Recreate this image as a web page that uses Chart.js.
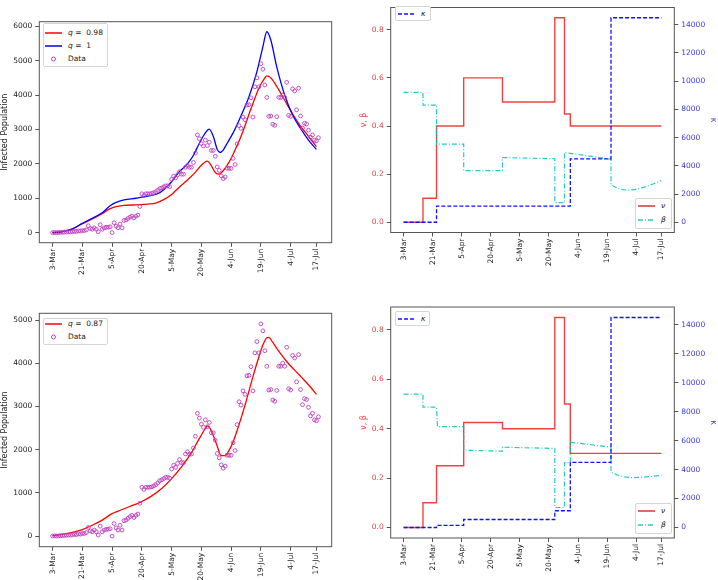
<!DOCTYPE html>
<html>
<head>
<meta charset="utf-8">
<script src="https://cdn.jsdelivr.net/npm/chart.js@4.4.0/dist/chart.umd.min.js"></script>
<style>
body{margin:0;background:#fff;width:718px;height:580px;position:relative;overflow:hidden;font-family:"DejaVu Sans",sans-serif;}
canvas{position:absolute;}
.lg{position:absolute;border:1px solid #d4d4d4;border-radius:2px;background:#fff;box-sizing:border-box;}
.lt{position:absolute;font-size:7.5px;line-height:10px;height:10px;color:#222;white-space:pre;}
svg{position:absolute;}
</style>
</head>
<body>
<canvas id="c1" width="356" height="290" style="left:0;top:0"></canvas>
<canvas id="c2" width="362" height="290" style="left:356px;top:0"></canvas>
<canvas id="c3" width="356" height="290" style="left:0;top:290px"></canvas>
<canvas id="c4" width="362" height="290" style="left:356px;top:290px"></canvas>
<div id="legends"></div>
<script>
// day index from 3-Mar
var dayTicks = [0,15,30,45,60,75,90,105,120,133];
var dayLabels = ["3-Mar","21-Mar","5-Apr","20-Apr","5-May","20-May","4-Jun","19-Jun","4-Jul","17-Jul"];

// observed infected, one value per day
var infected = [0,5,0,5,10,10,15,20,25,20,30,40,35,50,45,60,
  60,80,200,120,100,140,100,25,230,100,140,155,160,170,
  0,290,190,140,250,140,355,370,410,450,480,430,480,510,760,
  1130,1080,1130,1130,1130,1140,1160,1190,1230,1280,1300,1330,1360,1360,1340,
  1550,1640,1590,1680,1770,1700,1700,1900,1950,1900,1900,2040,2310,2840,2730,
  2590,2520,2690,2530,2630,2390,2390,2220,1910,1810,1650,1570,1620,1870,1870,
  1870,2160,1980,2580,3110,3030,3360,3280,3710,3720,3920,3360,4240,4500,4240,
  4910,4750,4290,3930,3380,3390,3150,3120,3370,3930,3930,4000,3930,4370,3410,
  3380,4180,4120,3570,4200,3390,3040,3180,3160,2980,2780,2840,2690,2670,2760];

var q1Days = [0,5,10,15,20,25,29,32,36,42,48,53,56,60,64,68,71,74,77,79,81,83,84.5,86,88,91,95,99,103,106,108,110,113,117,121,125,129,133];
var q1Vals = [0,30,110,270,420,580,780,880,950,1000,1060,1130,1250,1480,1780,2000,2250,2600,2900,3010,2800,2420,2330,2400,2600,2900,3400,3950,4680,5400,5840,5600,4820,4000,3420,3030,2690,2420];
var q098Days = [0,5,10,15,20,25,29,32,36,42,48,52,56,60,64,68,72,75,78,80,82,84,86,89,92,96,100,104,107,108,110,113,117,121,125,129,133];
var q098Vals = [0,30,110,260,400,550,700,760,790,810,830,860,960,1110,1330,1530,1760,1960,2080,1950,1750,1700,1800,2050,2400,2950,3600,4200,4500,4560,4500,4250,3850,3450,3100,2800,2500];
var q087Days = [0,5,10,15,20,25,30,33,37,41,45,50,55,60,65,70,74,77,78,79,81,83,85,87,89,91,94,97,101,104,106,108,109,111,114,118,122,126,130,133];
var q087Vals = [10,40,85,150,250,370,520,580,650,720,800,930,1100,1330,1600,1930,2260,2490,2550,2520,2330,2080,1860,1860,1990,2180,2580,3030,3690,4150,4420,4590,4600,4480,4280,4040,3840,3650,3450,3280];

var popTicksTop = [0,1000,2000,3000,4000,5000,6000];
var popTicksBottom = [0,1000,2000,3000,4000,5000];
var rateTicks = [0,0.2,0.4,0.6,0.8];
var kappaTicks = [0,2000,4000,6000,8000,10000,12000,14000];

// top right parameters (change points)
var nuTopDays = [0,10,17,31,51,78,83,86,133];
var nuTopVals = [0,0.1,0.4,0.6,0.5,0.85,0.45,0.4,0.4];
var kappaTopDays = [0,17,86,107,133];
var kappaTopVals = [0,1150,4500,14500,14500];
var betaTopDays = [0,10,10,17,17,31,31,51,51,78,78,83,83,107,107,110,113,116,120,125,129,133];
var betaTopVals = [0.54,0.54,0.487,0.487,0.325,0.325,0.215,0.215,0.269,0.264,0.082,0.082,0.29,0.262,0.155,0.143,0.136,0.133,0.137,0.148,0.16,0.173];

// bottom right parameters
var nuBotDays = [0,10,17,31,51,78,83,86,133];
var nuBotVals = [0,0.1,0.25,0.425,0.4,0.85,0.5,0.3,0.3];
var kappaBotDays = [0,17,31,78,86,107,133];
var kappaBotVals = [0,140,554,1155,4500,14500,14500];
var betaBotDays = [0,10,10,17,17.5,31,31,51,51,78,78,83,83,86,86,107,107,110,114,118,122,127,133];
var betaBotVals = [0.54,0.54,0.487,0.487,0.408,0.408,0.313,0.309,0.325,0.32,0.081,0.081,0.263,0.263,0.345,0.325,0.224,0.213,0.205,0.202,0.203,0.206,0.211];

function pts(xs, ys){ return xs.map(function(x,i){ return {x:x, y:ys[i]}; }); }

var fnt = {family:'DejaVu Sans', size:7.5};

var frame = { id:'frame', afterDatasetsDraw: function(chart){
  var a = chart.chartArea, c = chart.ctx;
  c.save(); c.strokeStyle = '#555'; c.lineWidth = 1;
  c.strokeRect(a.left, a.top, a.right - a.left, a.bottom - a.top);
  c.restore();
}};

function xAxis(min, max, h){
  return {
    type:'linear', min:min, max:max,
    afterBuildTicks: function(s){ s.ticks = dayTicks.map(function(v){ return {value:v}; }); },
    afterFit: function(s){ s.height = h; },
    ticks:{autoSkip:false, minRotation:90, maxRotation:90, padding:2, color:'#222', font:fnt,
      callback:function(v,i){ return dayLabels[i]; }},
    grid:{drawOnChartArea:false, drawTicks:true, tickLength:4, tickColor:'#555'},
    border:{display:false}
  };
}

function yAxis(pos, min, max, vals, w, color, title, tpad, fmt){
  return {
    type:'linear', position:pos, min:min, max:max,
    afterBuildTicks: function(s){ s.ticks = vals.map(function(v){ return {value:v}; }); },
    afterFit: function(s){ s.width = w; },
    ticks:{padding:3, color:color, font:fnt, callback:fmt},
    grid:{drawOnChartArea:false, drawTicks:true, tickLength:4, tickColor:'#555'},
    border:{display:false},
    title:{display:true, text:title, color:color, font:{family:'DejaVu Sans', size:8}, padding:{top:tpad, bottom:0}}
  };
}

function popPanel(id, lines, yMin, yMax, yTicks, padTop, xH){
  var sets = [{
    data: pts(infected.map(function(v,i){ return i; }), infected),
    showLine:false, pointStyle:'circle', pointRadius:1.9, pointBorderWidth:0.9,
    pointBorderColor:'#c040c0', pointBackgroundColor:'rgba(0,0,0,0)'
  }];
  lines.forEach(function(l){
    sets.push({data:pts(l.d, l.v), borderColor:l.c, borderWidth:1.3, pointRadius:0,
      fill:false, cubicInterpolationMode:'monotone'});
  });
  new Chart(document.getElementById(id), {
    type:'line',
    data:{datasets:sets},
    options:{
      responsive:false, animation:false, devicePixelRatio:1,
      layout:{padding:{top:padTop, right:24.3, left:0, bottom:0}},
      plugins:{legend:{display:false}, tooltip:{enabled:false}},
      scales:{
        x:xAxis(-6.7, 140.7, xH),
        y:yAxis('left', yMin, yMax, yTicks, 39.3, '#222', 'Infected Population', 0, function(v){ return String(v); })
      }
    },
    plugins:[frame]
  });
}

function ratePanel(id, nuD, nuV, beD, beV, kaD, kaV, padTop, xH){
  new Chart(document.getElementById(id), {
    type:'line',
    data:{datasets:[
      {data:pts(kaD, kaV), yAxisID:'y2', stepped:'before', borderColor:'#1010ff', borderWidth:1.3,
        borderDash:[4,2], pointRadius:0},
      {data:pts(beD, beV), yAxisID:'y', borderColor:'rgba(0,191,191,0.85)', borderWidth:1.2,
        borderDash:[5,2,1,2], pointRadius:0, tension:0},
      {data:pts(nuD, nuV), yAxisID:'y', stepped:'before', borderColor:'rgba(245,30,30,0.85)', borderWidth:1.4,
        pointRadius:0}
    ]},
    options:{
      responsive:false, animation:false, devicePixelRatio:1,
      layout:{padding:{top:padTop, right:0, left:0, bottom:0}},
      plugins:{legend:{display:false}, tooltip:{enabled:false}},
      scales:{
        x:xAxis(-6.65, 139.65, xH),
        y:yAxis('left', -0.0425, 0.8925, rateTicks, 34.7, '#e04848', 'ν, β', 3.2, function(v){ return v.toFixed(1); }),
        y2:yAxis('right', -725, 15225, kappaTicks, 43.7, '#3a3ad2', 'κ', 0, function(v){ return String(v); })
      }
    },
    plugins:[frame]
  });
}

popPanel('c1', [{d:q1Days, v:q1Vals, c:'#0000ff'}, {d:q098Days, v:q098Vals, c:'#ff0000'}],
  -292, 6132, popTicksTop, 21.7, 47.3);
popPanel('c3', [{d:q087Days, v:q087Vals, c:'#ff0000'}],
  -245.5, 5155.5, popTicksBottom, 23.3, 33.3);
ratePanel('c2', nuTopDays, nuTopVals, betaTopDays, betaTopVals, kappaTopDays, kappaTopVals, 2, 57.5);
ratePanel('c4', nuBotDays, nuBotVals, betaBotDays, betaBotVals, kappaBotDays, kappaBotVals, 17, 42);

function legendBox(b){
  var h = '<div class="lg" style="left:'+b.box[0]+'px;top:'+b.box[1]+'px;width:'+b.box[2]+'px;height:'+b.box[3]+'px"></div>';
  b.rows.forEach(function(r){
    var st = 'left:'+r.x+'px;top:'+(r.cy-5)+'px';
    if (r.dot) {
      h += '<svg style="'+st+'" width="'+r.w+'" height="10"><circle cx="'+(r.w/2)+'" cy="5" r="2" fill="none" stroke="'+r.color+'" stroke-width="1"/></svg>';
    } else {
      h += '<svg style="'+st+'" width="'+r.w+'" height="10"><line x1="0" y1="5" x2="'+r.w+'" y2="5" stroke="'+r.color+'" stroke-width="1.5" stroke-dasharray="'+(r.dash || 'none')+'"/></svg>';
    }
    h += '<div class="lt" style="left:'+r.tx+'px;top:'+(r.cy-5)+'px">'+r.text+'</div>';
  });
  document.getElementById('legends').insertAdjacentHTML('beforeend', h);
}

var nuRow = function(cy){ return {cy:cy, x:638, w:17, tx:661, color:'rgba(220,30,30,0.9)', text:'<i>ν</i>'}; };
var beRow = function(cy){ return {cy:cy, x:638, w:17, tx:661, color:'rgba(0,191,191,0.85)', dash:'5 2 1 2', text:'<i>β</i>'}; };
var kaRow = function(cy){ return {cy:cy, x:398, w:16, tx:421, color:'#1010ff', dash:'4 2', text:'<i>κ</i>'}; };

legendBox({box:[43,23,65,44], rows:[
  {cy:33, x:45, w:17, tx:68, color:'#ff0000', text:'<i>q</i> =  0.98'},
  {cy:46, x:45, w:17, tx:68, color:'#0000ff', text:'<i>q</i> =  1'},
  {cy:59, x:45, w:17, tx:68, color:'#c040c0', dot:true, text:'Data'}]});
legendBox({box:[43,318,65,27], rows:[
  {cy:324, x:45, w:17, tx:68, color:'#ff0000', text:'<i>q</i> =  0.87'},
  {cy:337, x:45, w:17, tx:68, color:'#c040c0', dot:true, text:'Data'}]});
legendBox({box:[395,6,36,15], rows:[kaRow(13.5)]});
legendBox({box:[635,198,37,31], rows:[nuRow(205.7), beRow(220)]});
legendBox({box:[395,311,35,15], rows:[kaRow(318.5)]});
legendBox({box:[635,503,37,31], rows:[nuRow(510.7), beRow(525)]});
</script>
</body>
</html>
